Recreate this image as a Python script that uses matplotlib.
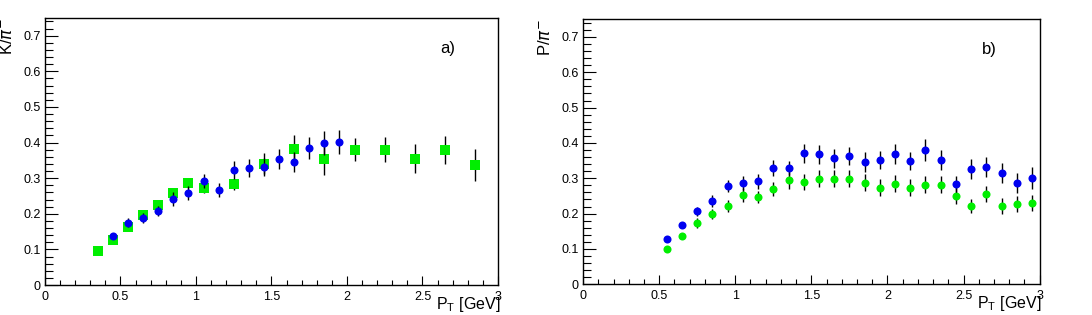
"""
Particle ratio plots, K/pi- and P/pi- versus transverse momentum.
"""
import matplotlib
matplotlib.use('Agg')
import matplotlib.pyplot as plt
from matplotlib.ticker import MultipleLocator

plt.rcParams['font.family'] = ['Liberation Sans', 'DejaVu Sans']

# panel a) K/pi-
ka_blue_pt = [0.45, 0.55, 0.65, 0.75, 0.85, 0.95, 1.05, 1.15, 1.25, 1.35,
              1.45, 1.55, 1.65, 1.75, 1.85, 1.95]
ka_blue_val = [0.137, 0.175, 0.188, 0.208, 0.241, 0.259, 0.291, 0.267, 0.323, 0.329,
               0.331, 0.354, 0.345, 0.385, 0.399, 0.401]
ka_blue_err = [0.008, 0.013, 0.013, 0.014, 0.019, 0.020, 0.020, 0.020, 0.024, 0.025,
               0.025, 0.028, 0.029, 0.031, 0.033, 0.033]

ka_green_pt = [0.35, 0.45, 0.55, 0.65, 0.75, 0.85, 0.95, 1.05, 1.25, 1.45,
               1.65, 1.85, 2.05, 2.25, 2.45, 2.65, 2.85]
ka_green_val = [0.095, 0.126, 0.162, 0.196, 0.226, 0.259, 0.286, 0.271, 0.283, 0.341,
                0.382, 0.355, 0.380, 0.380, 0.355, 0.380, 0.338]
ka_green_err = [0.005, 0.006, 0.008, 0.009, 0.010, 0.012, 0.013, 0.013, 0.016, 0.030,
                0.040, 0.045, 0.033, 0.035, 0.040, 0.039, 0.045]

# panel b) P/pi-
pr_pt = [0.55, 0.65, 0.75, 0.85, 0.95, 1.05, 1.15, 1.25, 1.35, 1.45, 1.55, 1.65, 1.75,
         1.85, 1.95, 2.05, 2.15, 2.25, 2.35, 2.45, 2.55, 2.65, 2.75, 2.85, 2.95]
pr_blue_val = [0.129, 0.167, 0.207, 0.236, 0.278, 0.286, 0.291, 0.329, 0.329, 0.371,
               0.368, 0.357, 0.363, 0.346, 0.352, 0.368, 0.349, 0.380, 0.352, 0.283,
               0.326, 0.332, 0.315, 0.287, 0.301]
pr_blue_err = [0.008, 0.009, 0.013, 0.017, 0.018, 0.020, 0.020, 0.023, 0.020, 0.027,
               0.027, 0.027, 0.026, 0.027, 0.026, 0.028, 0.026, 0.031, 0.028, 0.023,
               0.028, 0.029, 0.029, 0.028, 0.031]
pr_green_val = [0.101, 0.136, 0.174, 0.199, 0.221, 0.253, 0.247, 0.270, 0.294, 0.289,
                0.298, 0.298, 0.298, 0.287, 0.273, 0.284, 0.273, 0.281, 0.281, 0.250,
                0.222, 0.256, 0.222, 0.227, 0.230]
pr_green_err = [0.007, 0.008, 0.014, 0.015, 0.017, 0.020, 0.018, 0.020, 0.023, 0.023,
                0.024, 0.024, 0.024, 0.024, 0.024, 0.024, 0.024, 0.024, 0.024, 0.024,
                0.020, 0.022, 0.022, 0.022, 0.024]

BLUE = '#0000f0'
GREEN = '#00ee00'
ERR = dict(ecolor='black', elinewidth=1.0, capsize=1.8, capthick=1.0, mew=0)


def style_axes(ax, ylabel, tag):
    ax.set_xlim(0, 3)
    ax.set_ylim(0, 0.75)
    ax.xaxis.set_major_locator(MultipleLocator(0.5))
    ax.xaxis.set_minor_locator(MultipleLocator(0.1))
    ax.yaxis.set_major_locator(MultipleLocator(0.1))
    ax.yaxis.set_minor_locator(MultipleLocator(0.02))
    ax.xaxis.set_major_formatter(plt.FuncFormatter(lambda v, p: f"{v:g}"))
    ax.yaxis.set_major_formatter(plt.FuncFormatter(lambda v, p: f"{v:g}"))
    ax.tick_params(which='both', direction='in', top=False, right=False,
                   labelsize=9, width=0.8)
    ax.tick_params(axis='x', which='major', length=6.5, pad=4)
    ax.tick_params(axis='x', which='minor', length=3.6)
    ax.tick_params(axis='y', which='major', length=9.4, pad=3)
    ax.tick_params(axis='y', which='minor', length=5.5)
    for s in ax.spines.values():
        s.set_linewidth(1.0)
    ax.text(-0.083, 1.0, ylabel, transform=ax.transAxes, rotation=90,
            ha='center', va='top', fontsize=12)
    ax.text(1.005, -0.09, r'P$_\mathregular{T}$ [GeV]', transform=ax.transAxes,
            ha='right', va='baseline', fontsize=11.5)
    ax.text(2.67, 0.665, tag, ha='center', va='center', fontsize=12)


fig = plt.figure(figsize=(10.92, 3.15), dpi=100)
ax1 = fig.add_axes([0.0412, 0.0952, 0.4148, 0.848])
ax2 = fig.add_axes([0.534, 0.0975, 0.418, 0.8415])

ax1.errorbar(ka_green_pt, ka_green_val, yerr=ka_green_err, fmt='s', color=GREEN,
             ms=6.8, zorder=3, **ERR)
ax1.errorbar(ka_blue_pt, ka_blue_val, yerr=ka_blue_err, fmt='o', color=BLUE,
             ms=5.8, zorder=4, **ERR)
style_axes(ax1, r'K/$\pi^{-}$', 'a)')

ax2.errorbar(pr_pt, pr_green_val, yerr=pr_green_err, fmt='o', color=GREEN,
             ms=5.8, zorder=3, **ERR)
ax2.errorbar(pr_pt, pr_blue_val, yerr=pr_blue_err, fmt='o', color=BLUE,
             ms=5.8, zorder=4, **ERR)
style_axes(ax2, r'P/$\pi^{-}$', 'b)')

plt.savefig('out.png', dpi=100)
plt.close()
